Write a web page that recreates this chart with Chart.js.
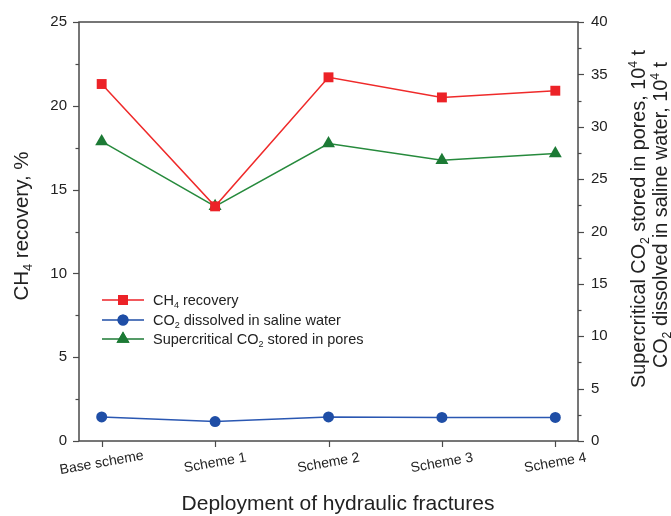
<!DOCTYPE html>
<html>
<head>
<meta charset="utf-8">
<script src="https://cdn.jsdelivr.net/npm/chart.js@4/dist/chart.umd.min.js"></script>
<style>
  html, body { margin: 0; padding: 0; background: #fff; }
  #wrap { width: 671px; height: 516px; position: relative; }
</style>
</head>
<body>
<div id="wrap"><canvas id="fractures-chart"></canvas></div>
<script>
const categories = ['Base scheme', 'Scheme 1', 'Scheme 2', 'Scheme 3', 'Scheme 4'];
const ch4Recovery = [21.3, 14.0, 21.7, 20.5, 20.9];             // %, left axis
const co2Dissolved = [2.3, 1.85, 2.3, 2.25, 2.25];              // 10^4 t, right axis
const co2Supercritical = [28.6, 22.4, 28.4, 26.8, 27.45];       // 10^4 t, right axis
const leftTicks = [0, 5, 10, 15, 20, 25];
const rightTicks = [0, 5, 10, 15, 20, 25, 30, 35, 40];

const FONT = '"Liberation Sans", Arial, sans-serif';
const AXIS_COLOR = '#4a4a4a';

const toPoints = values => values.map((v, i) => ({ x: i, y: v }));

// text with sub/superscript pieces, e.g. [['CH'], ['4', 'sub'], [' recovery']]
function richWidth(ctx, parts, size) {
    let w = 0;
    parts.forEach(([t, kind]) => {
        ctx.font = (kind ? size * 0.62 : size) + 'px ' + FONT;
        w += ctx.measureText(t).width;
    });
    return w;
}
function drawRich(ctx, parts, x, y, size, align) {
    const w = richWidth(ctx, parts, size);
    let cx = align === 'center' ? x - w / 2 : x;
    ctx.textAlign = 'left';
    ctx.textBaseline = 'alphabetic';
    parts.forEach(([t, kind]) => {
        ctx.font = (kind ? size * 0.62 : size) + 'px ' + FONT;
        let dy = 0;
        if (kind === 'sub') dy = size * 0.18;
        if (kind === 'sup') dy = -size * 0.38;
        ctx.fillText(t, cx, y + dy);
        cx += ctx.measureText(t).width;
    });
}

const legendItems = [
    { parts: [['CH'], ['4', 'sub'], [' recovery']], color: '#ec2227', style: 'rect', radius: 7 },
    { parts: [['CO'], ['2', 'sub'], [' dissolved in saline water']], color: '#1f4ea6', style: 'circle', radius: 5.5 },
    { parts: [['Supercritical CO'], ['2', 'sub'], [' stored in pores']], color: '#1c7a35', style: 'triangle', radius: 7.5 }
];

const axesPlugin = {
    id: 'axesPlugin',
    beforeDatasetsDraw(chart) {
        const { ctx, chartArea: a } = chart;
        const yL = chart.scales.y, yR = chart.scales.y2, x = chart.scales.x;
        ctx.save();
        ctx.strokeStyle = AXIS_COLOR;
        ctx.lineWidth = 1.5;
        ctx.strokeRect(a.left, a.top, a.right - a.left, a.bottom - a.top);

        // left ticks, major every 5 and minor every 2.5
        ctx.lineWidth = 1.2;
        for (let v = 0; v <= 25; v += 2.5) {
            const py = Math.round(yL.getPixelForValue(v)) + 0.5;
            const len = v % 5 === 0 ? 6 : 3.5;
            ctx.beginPath(); ctx.moveTo(a.left - len, py); ctx.lineTo(a.left, py); ctx.stroke();
        }
        for (let v = 0; v <= 40; v += 2.5) {
            const py = Math.round(yR.getPixelForValue(v)) + 0.5;
            const len = v % 5 === 0 ? 6 : 3.5;
            ctx.beginPath(); ctx.moveTo(a.right, py); ctx.lineTo(a.right + len, py); ctx.stroke();
        }
        categories.forEach((c, i) => {
            const px = Math.round(x.getPixelForValue(i)) + 0.5;
            ctx.beginPath(); ctx.moveTo(px, a.bottom); ctx.lineTo(px, a.bottom + 6); ctx.stroke();
        });

        ctx.fillStyle = '#222';
        ctx.font = '15px ' + FONT;
        ctx.textBaseline = 'middle';
        ctx.textAlign = 'right';
        leftTicks.forEach(v => ctx.fillText(String(v), a.left - 12, yL.getPixelForValue(v)));
        ctx.textAlign = 'left';
        rightTicks.forEach(v => ctx.fillText(String(v), a.right + 13, yR.getPixelForValue(v)));

        // slanted category labels
        ctx.font = '14px ' + FONT;
        ctx.textAlign = 'center';
        categories.forEach((c, i) => {
            ctx.save();
            ctx.translate(x.getPixelForValue(i), a.bottom + 22);
            ctx.rotate(-10 * Math.PI / 180);
            ctx.fillText(c, 0, 0);
            ctx.restore();
        });
        ctx.restore();
    },
    afterDraw(chart) {
        const { ctx, chartArea: a } = chart;
        ctx.save();
        ctx.fillStyle = '#222';

        // axis titles
        drawRich(ctx, [['Deployment of hydraulic fractures']], 338, 510, 21, 'center');

        ctx.save();
        ctx.translate(28, 226);
        ctx.rotate(-Math.PI / 2);
        drawRich(ctx, [['CH'], ['4', 'sub'], [' recovery, %']], 0, 0, 20.5, 'center');
        ctx.restore();

        ctx.save();
        ctx.translate(645, 219);
        ctx.rotate(-Math.PI / 2);
        drawRich(ctx, [['Supercritical CO'], ['2', 'sub'], [' stored in pores, 10'], ['4', 'sup'], [' t']], 0, 0, 19.8, 'center');
        ctx.restore();
        ctx.save();
        ctx.translate(667, 215);
        ctx.rotate(-Math.PI / 2);
        drawRich(ctx, [['CO'], ['2', 'sub'], [' dissolved in saline water, 10'], ['4', 'sup'], [' t']], 0, 0, 19.8, 'center');
        ctx.restore();

        // legend
        const rows = [300, 320, 339];
        legendItems.forEach((item, i) => {
            const ly = rows[i];
            ctx.strokeStyle = item.color;
            ctx.lineWidth = 1.5;
            ctx.beginPath(); ctx.moveTo(102, ly); ctx.lineTo(144, ly); ctx.stroke();
            ctx.fillStyle = item.color;
            Chart.helpers.drawPoint(ctx, { pointStyle: item.style, radius: item.radius, borderWidth: 0 }, 123, ly);
            ctx.fill();
            ctx.fillStyle = '#222';
            drawRich(ctx, item.parts, 153, ly + 5, 14.5, 'left');
        });
        ctx.restore();
    }
};

const ctx = document.getElementById('fractures-chart').getContext('2d');
new Chart(ctx, {
    type: 'line',
    data: {
        datasets: [
            {
                label: 'CH4 recovery',
                data: toPoints(ch4Recovery),
                yAxisID: 'y',
                borderColor: '#ef2a2a',
                backgroundColor: '#ec2227',
                borderWidth: 1.5,
                pointStyle: 'rect',
                pointRadius: 7,
                pointBorderWidth: 0
            },
            {
                label: 'CO2 dissolved in saline water',
                data: toPoints(co2Dissolved),
                yAxisID: 'y2',
                borderColor: '#2a57b2',
                backgroundColor: '#1f4ea6',
                borderWidth: 1.5,
                pointStyle: 'circle',
                pointRadius: 5.5,
                pointBorderWidth: 0
            },
            {
                label: 'Supercritical CO2 stored in pores',
                data: toPoints(co2Supercritical),
                yAxisID: 'y2',
                borderColor: '#268a3c',
                backgroundColor: '#1c7a35',
                borderWidth: 1.5,
                pointStyle: 'triangle',
                pointRadius: 7.5,
                pointBorderWidth: 0
            }
        ]
    },
    options: {
        responsive: true,
        maintainAspectRatio: false,
        animation: false,
        layout: { padding: { left: 79, right: 93, top: 22, bottom: 75 } },
        plugins: { legend: { display: false }, tooltip: { enabled: false } },
        scales: {
            x: { type: 'linear', min: -0.2, max: 4.2, display: false },
            y: { min: 0, max: 25, display: false },
            y2: { min: 0, max: 40, display: false }
        }
    },
    plugins: [axesPlugin]
});
</script>
</body>
</html>
